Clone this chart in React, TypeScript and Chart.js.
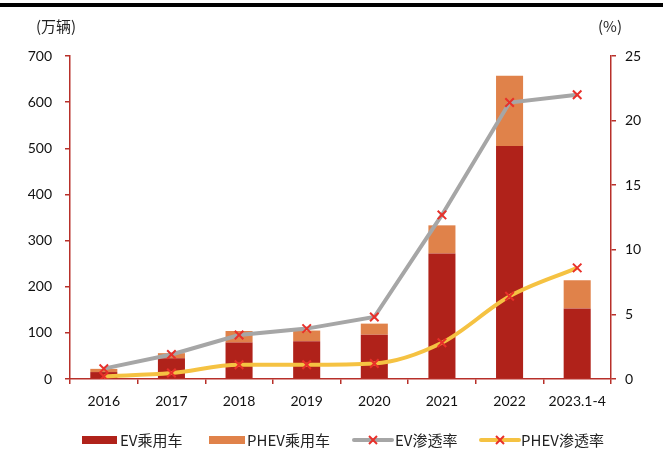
import React, { useEffect, useRef } from "react";
import { Chart, registerables } from "chart.js";

Chart.register(...registerables);

const categories = ["2016", "2017", "2018", "2019", "2020", "2021", "2022", "2023.1-4"];
const evSales = [15, 45, 79, 82, 96, 272, 505, 153];
const phevSales = [7, 11, 25, 23, 24, 61, 152, 61];
const evRate = [0.8, 1.9, 3.4, 3.9, 4.8, 12.7, 21.4, 22.0];
const phevRate = [0.2, 0.46, 1.1, 1.1, 1.2, 2.8, 6.4, 8.6];
const seriesNames = ["EV乘用车", "PHEV乘用车", "EV渗透率", "PHEV渗透率"];

const EV_COLOR = "#B0221A";
const PHEV_COLOR = "#E0824A";
const EV_LINE = "#A6A6A6";
const PHEV_LINE = "#F5C242";
const MARK = "#E8302A";
const AXIS = "#B8302A";
const TICK_FONT = { family: "Lato, 'Noto Sans CJK SC', sans-serif", size: 14 };
const CJK = "'Noto Sans CJK SC', sans-serif";

const decorPlugin = {
  id: "decor",
  afterDraw(chart: any) {
    const ctx = chart.ctx;
    ctx.save();
    ctx.fillStyle = "#000";
    ctx.fillRect(0, 3, chart.width, 4);
    ctx.fillStyle = "#222";
    ctx.font = `15px ${CJK}`;
    ctx.textBaseline = "middle";
    ctx.textAlign = "center";
    ctx.fillText("(万辆)", 56, 26);
    ctx.fillText("(%)", 610, 26);
    const ly = 440;
    ctx.textAlign = "left";
    ctx.fillStyle = EV_COLOR;
    ctx.fillRect(82, ly - 4, 35, 8);
    ctx.fillStyle = PHEV_COLOR;
    ctx.fillRect(209, ly - 4, 36, 8);
    const drawLineItem = (x0: number, x1: number, color: string) => {
      ctx.strokeStyle = color;
      ctx.lineWidth = 4;
      ctx.lineCap = "round";
      ctx.beginPath();
      ctx.moveTo(x0, ly);
      ctx.lineTo(x1, ly);
      ctx.stroke();
      const cx = (x0 + x1) / 2;
      ctx.strokeStyle = MARK;
      ctx.lineWidth = 2;
      ctx.lineCap = "butt";
      ctx.beginPath();
      ctx.moveTo(cx - 4, ly - 4);
      ctx.lineTo(cx + 4, ly + 4);
      ctx.moveTo(cx + 4, ly - 4);
      ctx.lineTo(cx - 4, ly + 4);
      ctx.stroke();
    };
    drawLineItem(354, 392, EV_LINE);
    drawLineItem(481, 519, PHEV_LINE);
    ctx.fillStyle = "#222";
    ctx.font = `15px ${CJK}`;
    ctx.fillText(seriesNames[0], 120, ly);
    ctx.fillText(seriesNames[1], 247, ly);
    ctx.fillText(seriesNames[2], 395, ly);
    ctx.fillText(seriesNames[3], 521, ly);
    ctx.restore();
  },
};

export default function App() {
  const ref = useRef<HTMLCanvasElement | null>(null);
  useEffect(() => {
    if (!ref.current) return;
    const chart = new Chart(ref.current, {
      type: "bar",
      data: {
        labels: categories,
        datasets: [
          {
            type: "line",
            label: seriesNames[2],
            data: evRate,
            yAxisID: "y1",
            borderColor: EV_LINE,
            borderWidth: 4,
            pointStyle: "crossRot",
            pointRadius: 6,
            pointBorderColor: MARK,
            pointBorderWidth: 2,
            tension: 0,
            order: 0,
          } as any,
          {
            type: "line",
            label: seriesNames[3],
            data: phevRate,
            yAxisID: "y1",
            borderColor: PHEV_LINE,
            borderWidth: 4,
            pointStyle: "crossRot",
            pointRadius: 6,
            pointBorderColor: MARK,
            pointBorderWidth: 2,
            cubicInterpolationMode: "monotone",
            order: 0,
          } as any,
          {
            label: seriesNames[0],
            data: evSales,
            backgroundColor: EV_COLOR,
            yAxisID: "y",
            stack: "s",
            barPercentage: 0.4,
            categoryPercentage: 1,
            order: 1,
          },
          {
            label: seriesNames[1],
            data: phevSales,
            backgroundColor: PHEV_COLOR,
            yAxisID: "y",
            stack: "s",
            barPercentage: 0.4,
            categoryPercentage: 1,
            order: 2,
          },
        ],
      },
      options: {
        animation: false,
        responsive: false,
        layout: { padding: { top: 56, left: 0, right: 0, bottom: 0 } },
        plugins: { legend: { display: false }, tooltip: { enabled: false } },
        scales: {
          x: {
            stacked: true,
            offset: true,
            grid: {
              offset: true,
              drawOnChartArea: false,
              drawTicks: true,
              tickLength: 5,
              color: AXIS,
              lineWidth: 1.5,
            },
            border: { color: AXIS, width: 1.5 },
            ticks: { color: "#111", font: TICK_FONT, padding: 9, maxRotation: 0, autoSkip: false },
            afterFit: (s: any) => {
              s.height = 82;
            },
          },
          y: {
            stacked: true,
            position: "left",
            min: 0,
            max: 700,
            ticks: { stepSize: 100, color: "#111", font: TICK_FONT, padding: 13 },
            grid: { drawOnChartArea: false, tickLength: 5, color: AXIS, lineWidth: 1.5 },
            border: { color: AXIS, width: 1.5 },
            afterFit: (s: any) => {
              s.width = 70;
            },
          },
          y1: {
            position: "right",
            min: 0,
            max: 25,
            ticks: { stepSize: 5, color: "#111", font: TICK_FONT, padding: 9 },
            grid: { drawOnChartArea: false, tickLength: 5, color: AXIS, lineWidth: 1.5 },
            border: { color: AXIS, width: 1.5 },
            afterFit: (s: any) => {
              s.width = 52;
            },
          },
        },
      },
      plugins: [decorPlugin],
    });
    return () => chart.destroy();
  }, []);
  return (
    <div style={{ position: "absolute", left: 0, top: 0, width: 663, height: 461, background: "#fff" }}>
      <canvas ref={ref} width={663} height={461} style={{ width: 663, height: 461, display: "block" }} />
    </div>
  );
}
